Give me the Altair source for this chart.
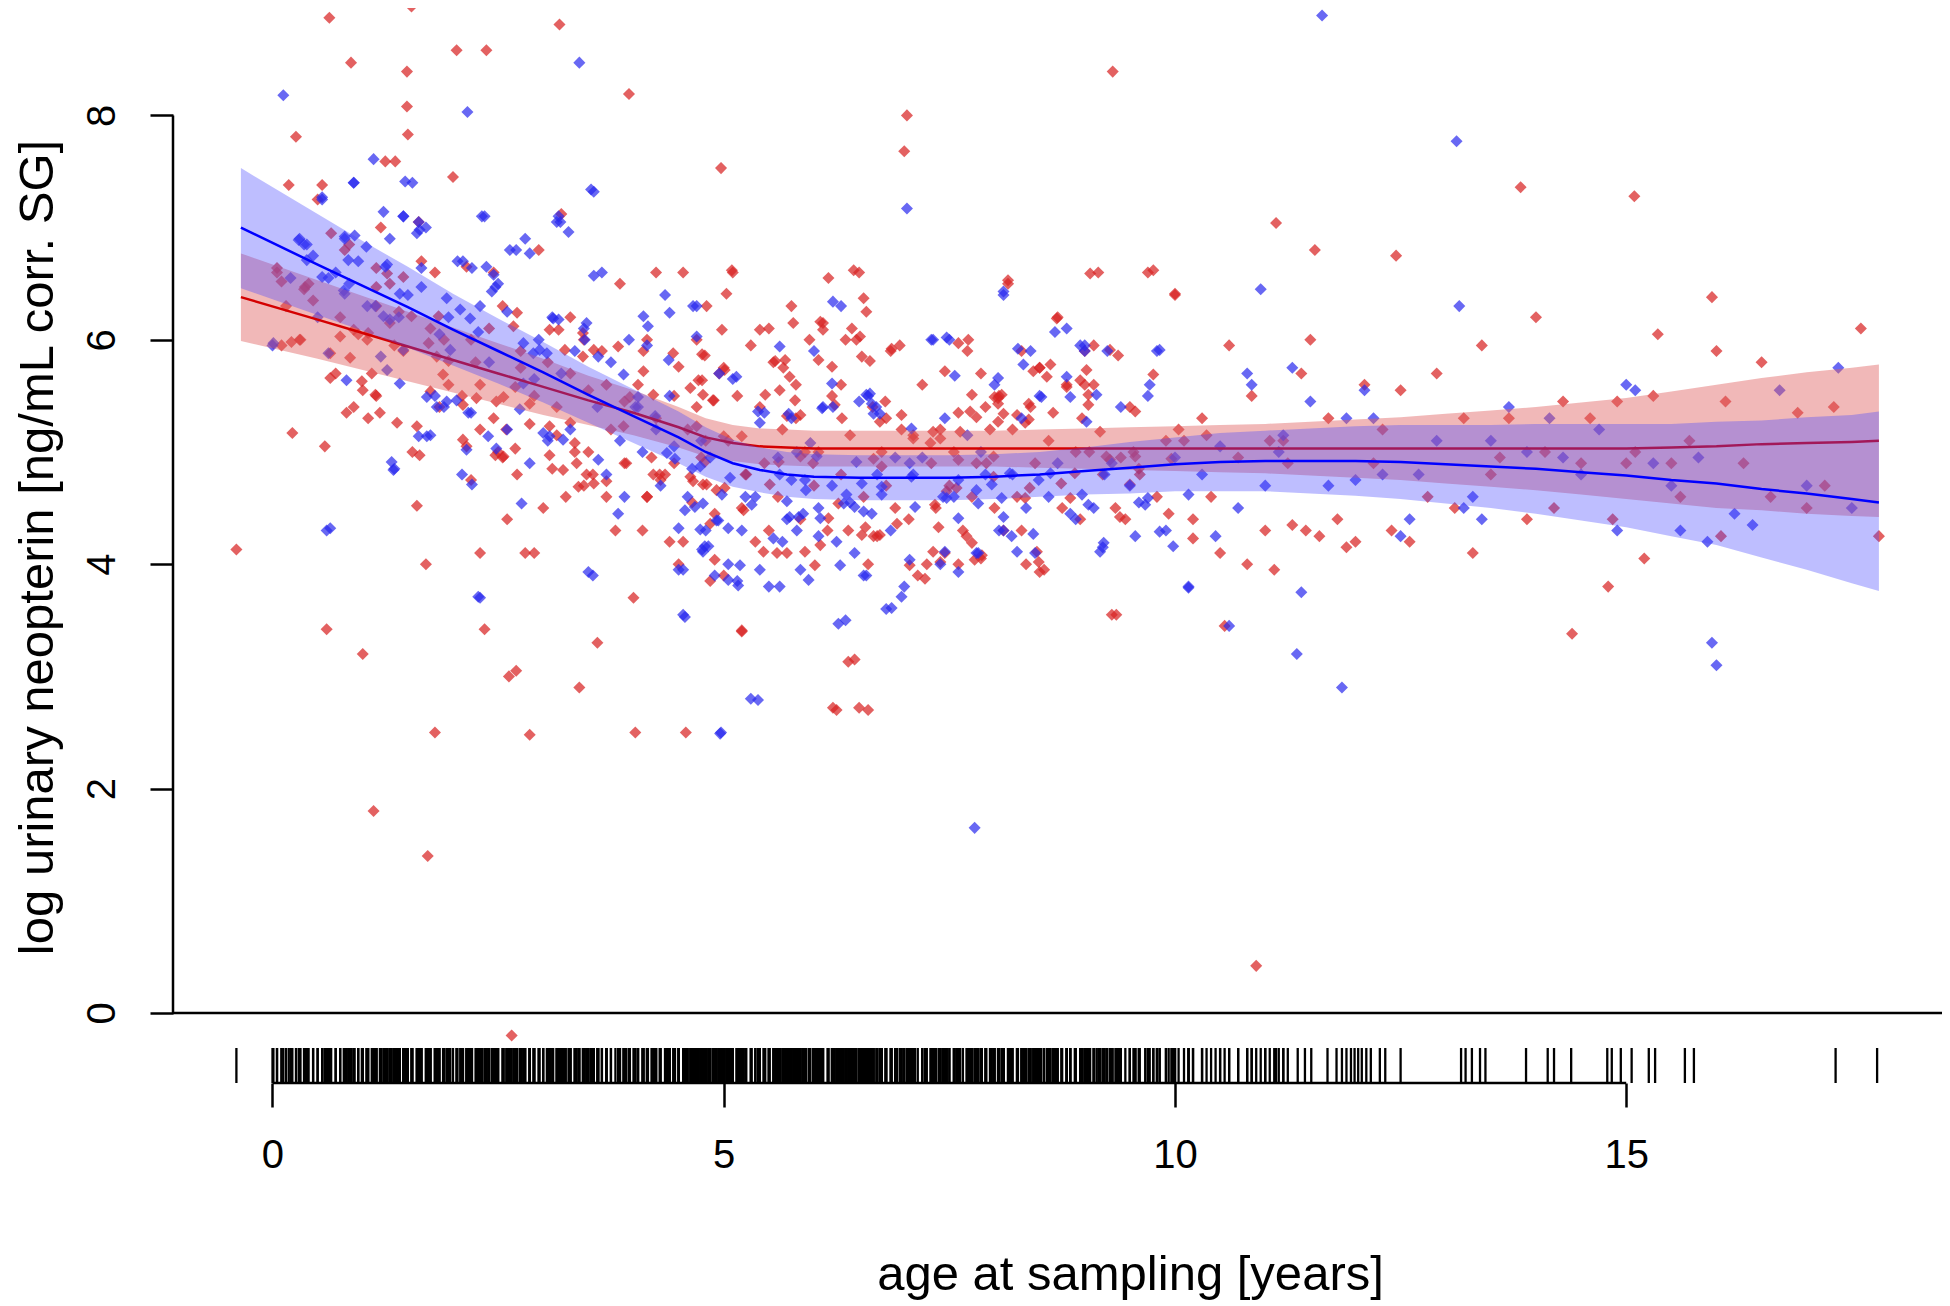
import altair as alt
import pandas as pd

# ---------------- data ----------------
RED_POINTS = [
    (-0.40, 4.13), (0.05, 6.60), (0.10, 5.95), (0.18, 7.38), (0.22, 5.17), (0.26, 7.81), (0.30, 6.00),
    (0.35, 6.45), (0.40, 6.50), (0.50, 7.25), (0.55, 7.38), (0.58, 5.05), (0.60, 3.42), (0.63, 8.87),
    (0.65, 6.95), (0.70, 5.70), (0.75, 6.20), (0.80, 6.80), (0.87, 8.47), (0.90, 5.40), (0.95, 6.05),
    (1.00, 3.20), (1.00, 5.55), (0.85, 6.85), (0.45, 6.35), (0.15, 6.30),
    (1.05, 6.00), (1.10, 5.70), (1.12, 1.80), (1.15, 5.50), (1.20, 7.00), (1.25, 7.59), (1.30, 6.50),
    (1.36, 7.59), (1.40, 6.25), (1.45, 5.90), (1.49, 8.39), (1.49, 8.08), (1.50, 7.83), (1.54, 8.97),
    (1.55, 5.00), (1.60, 4.52), (1.62, 7.05), (1.70, 4.00), (1.72, 1.40), (1.75, 6.10), (1.80, 2.50),
    (1.85, 5.40), (1.90, 6.00), (1.95, 5.60), (2.00, 7.45), (2.04, 8.58), (1.65, 6.70), (1.35, 5.95),
    (1.15, 6.30), (1.80, 6.60),
    (2.10, 5.50), (2.15, 6.65), (2.20, 4.75), (2.25, 5.80), (2.30, 4.10), (2.35, 3.42), (2.37, 8.58),
    (2.40, 6.10), (2.45, 5.30), (2.50, 5.00), (2.55, 6.30), (2.60, 4.40), (2.62, 3.00), (2.70, 3.05),
    (2.75, 5.90), (2.80, 4.10), (2.85, 2.48), (2.90, 5.50), (2.95, 6.80), (3.00, 4.50), (2.65, -0.20),
    (2.30, 5.60), (2.55, 4.95), (2.85, 5.25), (2.20, 6.00), (2.75, 5.75), (2.90, 4.10), (2.45, 6.60),
    (3.05, 5.80), (3.10, 4.85), (3.15, 5.40), (3.18, 8.81), (3.20, 7.12), (3.25, 4.60), (3.30, 5.70),
    (3.35, 5.00), (3.40, 2.90), (3.45, 6.00), (3.50, 5.55), (3.55, 4.80), (3.60, 3.30), (3.65, 5.90),
    (3.70, 4.60), (3.75, 5.20), (3.80, 4.30), (3.85, 6.50), (3.90, 4.90), (3.95, 8.19), (4.00, 3.70),
    (4.02, 2.50), (3.30, 6.20), (3.50, 5.00), (3.70, 5.60), (3.90, 5.45), (3.15, 5.15), (3.45, 4.70),
    (4.05, 5.60), (4.10, 4.30), (4.15, 6.00), (4.20, 4.95), (4.25, 5.30), (4.30, 4.75), (4.35, 4.80),
    (4.40, 4.20), (4.45, 5.50), (4.50, 4.00), (4.55, 6.60), (4.58, 2.50), (4.60, 5.20), (4.65, 4.55),
    (4.70, 6.00), (4.75, 4.95), (4.80, 5.10), (4.85, 3.85), (4.90, 4.45), (4.95, 5.70), (4.97, 7.53),
    (5.00, 3.90), (4.25, 6.60), (4.45, 4.90), (4.70, 5.40), (4.15, 4.60), (4.55, 4.20),
    (5.05, 5.10), (5.10, 6.60), (5.15, 5.50), (5.20, 3.40), (5.25, 4.80), (5.30, 5.95), (5.35, 4.20),
    (5.40, 5.40), (5.45, 4.90), (5.50, 6.10), (5.55, 5.80), (5.60, 4.60), (5.65, 5.20), (5.70, 4.10),
    (5.75, 6.30), (5.80, 5.60), (5.85, 4.40), (5.90, 5.00), (5.95, 6.00), (6.00, 4.70), (5.20, 4.50),
    (5.50, 4.30), (5.80, 5.30),
    (6.05, 5.00), (6.10, 6.15), (6.15, 4.30), (6.20, 5.50), (6.25, 2.70), (6.30, 4.80), (6.35, 6.00),
    (6.40, 5.15), (6.45, 3.15), (6.50, 6.60), (6.55, 4.60), (6.60, 2.70), (6.65, 5.40), (6.70, 4.25),
    (6.75, 5.00), (6.80, 5.30), (6.85, 5.90), (6.90, 4.50), (6.95, 5.95), (7.00, 7.68), (7.03, 8.00),
    (6.30, 5.60), (6.60, 4.00), (6.80, 4.70),
    (7.05, 4.40), (7.10, 5.15), (7.15, 3.90), (7.20, 5.60), (7.30, 4.90), (7.35, 4.50), (7.40, 5.20),
    (7.45, 4.10), (7.50, 4.70), (7.55, 5.00), (7.60, 5.35), (7.65, 4.30), (7.70, 5.90), (7.75, 4.60),
    (7.80, 4.90), (7.85, 4.05), (7.90, 5.40), (7.95, 5.20), (8.00, 4.50), (7.25, 4.00), (7.60, 4.00),
    (7.85, 5.70),
    (8.05, 5.50), (8.10, 4.30), (8.15, 6.50), (8.20, 5.20), (8.25, 4.60), (8.30, 5.90), (8.35, 4.00),
    (8.40, 5.40), (8.45, 4.90), (8.50, 5.75), (8.55, 3.95), (8.60, 5.10), (8.70, 6.20), (8.75, 4.50),
    (8.80, 5.60), (8.90, 5.00), (8.95, 4.40), (9.00, 5.90), (8.30, 4.30), (8.65, 5.35),
    (9.05, 5.00), (9.10, 5.60), (9.20, 4.80), (9.30, 3.55), (9.31, 8.39), (9.40, 4.95), (9.50, 5.40),
    (9.60, 4.85), (9.70, 6.60), (9.80, 4.60), (9.90, 5.10), (10.00, 6.40), (9.15, 6.60), (9.45, 4.40),
    (10.10, 5.10), (10.20, 4.40), (10.30, 5.30), (10.40, 4.60), (10.50, 4.10), (10.55, 3.45),
    (10.60, 5.95), (10.70, 4.95), (10.80, 4.00), (10.85, 5.50), (10.90, 0.42), (11.00, 4.30),
    (11.05, 5.10), (11.12, 7.04), (10.35, 5.15),
    (11.10, 3.95), (11.20, 5.10), (11.30, 4.35), (11.40, 5.70), (11.45, 4.30), (11.50, 6.00),
    (11.55, 6.80), (11.60, 4.25), (11.70, 5.30), (11.80, 4.40), (11.90, 4.15), (12.00, 4.20),
    (11.25, 4.90),
    (12.10, 5.60), (12.20, 4.90), (12.30, 5.20), (12.40, 4.30), (12.45, 6.75), (12.50, 5.55),
    (12.60, 4.20), (12.90, 5.70), (12.80, 4.60),
    (13.10, 4.50), (13.20, 5.30), (13.30, 4.10), (13.40, 5.95), (13.50, 4.80), (13.70, 5.30),
    (13.83, 7.36), (13.90, 4.40), (14.00, 6.20), (13.60, 4.95),
    (14.10, 5.00), (14.20, 4.50), (14.30, 5.45), (14.40, 3.38), (14.50, 4.90), (14.60, 5.30),
    (14.80, 3.80), (14.85, 4.40), (14.90, 5.45), (15.00, 4.90),
    (15.09, 7.28), (15.10, 5.00), (15.20, 4.05), (15.30, 5.50), (15.35, 6.05), (15.50, 4.90),
    (15.60, 4.60), (15.70, 5.10), (15.95, 6.38), (16.00, 5.90), (16.05, 4.25),
    (16.10, 5.45), (16.30, 4.90), (16.50, 5.80), (16.60, 4.60), (16.90, 5.35), (17.20, 4.70),
    (17.30, 5.40), (17.60, 6.10), (17.80, 4.25), (17.00, 4.50),
]

RED_CORE = [
    (0.05, 6.64), (0.10, 6.52), (0.36, 6.47), (0.21, 5.98), (0.31, 6.00), (0.64, 5.88), (0.86, 5.84),
    (0.75, 6.03), (0.90, 6.09), (1.06, 6.06), (1.15, 6.47), (1.15, 6.64), (1.45, 6.56), (1.27, 6.59),
    (1.30, 6.15), (1.54, 6.21), (1.73, 5.97), (1.82, 5.85), (1.95, 5.81), (1.84, 6.21), (1.89, 5.69),
    (1.75, 5.54), (2.11, 5.42), (2.26, 5.48), (2.48, 5.45), (2.56, 5.49), (2.69, 5.58), (2.67, 6.12),
    (2.71, 6.24), (3.07, 6.09), (3.17, 6.09), (3.24, 5.91), (3.44, 6.06), (3.44, 5.85), (3.56, 5.91),
    (3.83, 5.94), (4.11, 5.90), (4.44, 5.88), (4.50, 5.76), (4.76, 5.87), (4.63, 5.57), (4.72, 5.64),
    (4.88, 5.46), (4.22, 5.51), (3.96, 5.49), (4.11, 5.72), (3.89, 5.23), (4.70, 5.23), (4.79, 4.91),
    (4.63, 4.78), (4.77, 4.71), (4.92, 4.66), (4.66, 4.74), (4.29, 4.80), (4.22, 4.80), (4.15, 4.60),
    (3.70, 4.74), (3.56, 4.72), (3.39, 4.69), (3.48, 4.80), (3.37, 4.90), (3.22, 4.84), (3.07, 4.97),
    (3.35, 5.08), (3.30, 5.26), (3.07, 5.23), (2.85, 5.43), (2.59, 5.20), (2.30, 5.20), (2.11, 5.11),
    (2.15, 5.05), (1.60, 5.23), (1.63, 4.97), (1.38, 5.26), (1.19, 5.35), (1.06, 5.30), (0.82, 5.35),
    (1.14, 5.51), (0.99, 5.63), (0.64, 5.66), (2.47, 4.97), (2.56, 4.96), (2.69, 5.03), (2.71, 4.80),
    (3.92, 4.90), (5.00, 5.75),
    (5.09, 6.62), (5.03, 6.41), (4.81, 6.30), (4.98, 6.09), (4.79, 5.86), (5.01, 5.73), (4.76, 5.64),
    (4.77, 5.51), (4.89, 5.46), (5.40, 6.09), (5.77, 6.15), (6.07, 6.16), (6.10, 6.09), (6.16, 6.55),
    (6.44, 6.62), (6.55, 6.37), (6.58, 6.25), (6.42, 6.10), (6.51, 6.03), (6.47, 6.00), (6.53, 5.85),
    (6.62, 5.81), (5.57, 5.81), (5.68, 5.82), (5.66, 5.75), (5.73, 5.67), (6.05, 5.82), (6.20, 5.76),
    (5.46, 5.51), (5.62, 5.55), (5.79, 5.46), (5.85, 5.33), (5.70, 5.32), (6.31, 5.30), (6.23, 5.42),
    (6.79, 5.45), (6.73, 5.27), (6.97, 5.33), (6.86, 5.92), (7.45, 5.72), (7.60, 5.97), (7.71, 6.00),
    (7.75, 5.51), (7.73, 5.36), (7.80, 5.31), (8.00, 5.49), (8.04, 5.48), (8.08, 5.51), (8.04, 5.43),
    (8.10, 5.34), (8.04, 5.27), (8.15, 6.53), (8.38, 5.43), (8.38, 5.29), (8.25, 5.33), (8.34, 5.26),
    (8.58, 5.67), (8.62, 5.78), (8.43, 5.72), (8.50, 5.75), (8.69, 6.19), (8.80, 5.58), (8.95, 5.64),
    (9.00, 5.60), (9.04, 5.51), (9.02, 5.73), (9.04, 5.42), (8.97, 5.30), (9.06, 6.59), (9.10, 5.95),
    (9.28, 5.91), (9.37, 5.86), (9.56, 5.36), (9.76, 6.62), (9.76, 5.69), (10.00, 6.41), (10.04, 5.20),
    (9.17, 5.18), (7.62, 5.18), (7.32, 5.18), (7.40, 5.12), (6.97, 5.20), (7.10, 5.12), (7.29, 5.08),
    (5.20, 5.14), (5.00, 5.14),
    (4.81, 4.71), (5.01, 4.68), (5.24, 4.80), (5.22, 4.48), (4.90, 4.04), (4.85, 4.36), (5.44, 4.11),
    (5.59, 4.10), (5.85, 4.96), (5.99, 4.90), (5.90, 4.11), (6.01, 3.99), (6.07, 4.17), (5.51, 4.71),
    (5.61, 4.91), (6.16, 4.41), (6.27, 4.54), (6.38, 4.30), (6.53, 4.26), (6.57, 4.33), (6.66, 4.25),
    (6.73, 4.26), (6.75, 4.87), (6.66, 4.94), (6.92, 4.36), (7.06, 3.99), (7.23, 3.87), (7.32, 4.11),
    (7.40, 4.02), (7.34, 4.53), (7.38, 4.33), (7.58, 4.68), (7.47, 4.65), (7.60, 4.93), (7.69, 4.25),
    (7.75, 4.19), (7.86, 4.08), (7.78, 4.04), (7.91, 4.90), (7.99, 4.96), (8.39, 4.68), (8.34, 4.59),
    (8.47, 4.11), (8.49, 4.02), (8.50, 3.93), (8.74, 4.72), (8.84, 4.59), (8.89, 4.81), (9.34, 4.50),
    (9.39, 4.42), (9.35, 3.55), (9.50, 4.71), (9.93, 4.45), (10.20, 4.23), (9.24, 4.96), (9.28, 4.93),
    (9.54, 5.00), (9.56, 4.96), (9.61, 4.80), (9.96, 4.94), (7.99, 4.78), (5.20, 3.41), (6.38, 3.13),
    (6.21, 2.72), (6.50, 2.72),
]

BLUE_POINTS = [
    (0.00, 5.95), (0.12, 8.18), (0.20, 6.55), (0.30, 6.90), (0.35, 6.85), (0.45, 6.75), (0.55, 7.27),
    (0.60, 4.30), (0.62, 6.55), (0.70, 6.60), (0.80, 6.90), (0.85, 6.50), (0.90, 7.40), (0.95, 6.70),
    (0.50, 6.20),
    (1.12, 7.61), (1.05, 6.30), (1.20, 5.85), (1.30, 6.90), (1.35, 4.85), (1.40, 6.20), (1.45, 7.10),
    (1.50, 6.40), (1.60, 6.95), (1.70, 7.00), (1.75, 5.15), (1.80, 5.50), (1.90, 5.40), (1.95, 6.20),
    (1.25, 6.65), (1.55, 7.40), (1.85, 6.05),
    (2.05, 6.70), (2.16, 8.03), (2.20, 5.35), (2.30, 3.70), (2.35, 7.10), (2.40, 5.80), (2.50, 6.50),
    (2.60, 6.25), (2.70, 6.80), (2.80, 6.90), (2.90, 5.65), (2.95, 6.00), (2.30, 6.30), (2.60, 5.20),
    (2.85, 4.90), (2.10, 4.80),
    (3.05, 5.10), (3.10, 6.20), (3.15, 7.05), (3.20, 5.70), (3.30, 5.20), (3.40, 8.47), (3.45, 6.10),
    (3.53, 7.34), (3.55, 3.90), (3.60, 5.40), (3.70, 4.80), (3.75, 5.80), (3.85, 5.10), (3.90, 4.60),
    (3.95, 6.00), (3.35, 5.90), (3.65, 6.60),
    (4.05, 5.40), (4.10, 5.00), (4.15, 5.95), (4.25, 5.20), (4.30, 4.70), (4.40, 5.50), (4.45, 5.05),
    (4.50, 3.95), (4.55, 3.55), (4.60, 4.60), (4.70, 6.30), (4.75, 5.10), (4.80, 4.30), (4.85, 4.95),
    (4.90, 3.90), (4.95, 5.70), (4.97, 2.50), (4.35, 6.40), (4.65, 4.85),
    (5.05, 4.00), (5.10, 5.65), (5.15, 3.85), (5.20, 4.30), (5.30, 2.80), (5.35, 4.60), (5.45, 5.35),
    (5.50, 3.80), (5.60, 4.95), (5.70, 4.40), (5.75, 5.30), (5.85, 3.95), (5.90, 4.75), (6.00, 5.90),
    (5.65, 4.20),
    (6.05, 4.50), (6.10, 5.40), (6.20, 4.70), (6.30, 6.30), (6.35, 3.50), (6.40, 4.55), (6.50, 5.45),
    (6.55, 3.90), (6.60, 5.50), (6.70, 4.80), (6.80, 3.60), (6.85, 4.30), (6.90, 4.95), (7.00, 3.80),
    (7.03, 7.17), (6.45, 4.10),
    (7.10, 4.80), (7.20, 4.95), (7.30, 6.00), (7.40, 4.00), (7.50, 6.00), (7.55, 4.60), (7.60, 4.75),
    (7.70, 5.15), (7.78, 1.65), (7.80, 4.10), (7.85, 5.00), (7.90, 4.80), (8.00, 5.60), (7.45, 5.30),
    (8.05, 4.30), (8.10, 6.40), (8.20, 4.80), (8.30, 5.30), (8.40, 5.90), (8.45, 4.10), (8.50, 5.50),
    (8.60, 4.60), (8.70, 4.90), (8.80, 6.10), (8.90, 4.40), (9.00, 5.90), (8.35, 4.50),
    (9.10, 4.50), (9.20, 4.15), (9.30, 4.90), (9.40, 5.40), (9.50, 4.70), (9.60, 4.55), (9.70, 5.50),
    (9.80, 5.90), (9.90, 4.30), (10.00, 4.95), (9.25, 5.90),
    (10.15, 3.80), (10.30, 4.80), (10.45, 4.25), (10.60, 3.45), (10.70, 4.50), (10.80, 5.70),
    (10.85, 5.60), (10.95, 6.45), (11.00, 4.70), (10.50, 5.05),
    (11.15, 5.00), (11.30, 5.75), (11.35, 3.20), (11.40, 3.75), (11.50, 5.45), (11.63, 8.89),
    (11.70, 4.70), (11.85, 2.90), (11.90, 5.30), (12.00, 4.75), (11.20, 5.15),
    (12.10, 5.55), (12.20, 5.30), (12.30, 4.80), (12.50, 4.25), (12.60, 4.40), (12.90, 5.10),
    (12.70, 4.80),
    (13.12, 7.77), (13.15, 6.30), (13.20, 4.50), (13.30, 4.60), (13.40, 4.40), (13.50, 5.10),
    (13.70, 5.40), (13.90, 5.00),
    (14.15, 5.30), (14.30, 4.95), (14.50, 4.80), (14.70, 5.20), (14.90, 4.30), (15.00, 5.60),
    (15.10, 5.55), (15.30, 4.90), (15.50, 4.70), (15.60, 4.30), (15.80, 4.95), (15.95, 3.30),
    (16.00, 3.10), (15.90, 4.20),
    (16.20, 4.45), (16.40, 4.35), (16.70, 5.55), (17.00, 4.70), (17.35, 5.75), (17.50, 4.50),
]

BLUE_CORE = [
    (0.90, 7.40), (1.47, 7.41), (0.55, 7.25), (0.29, 6.89), (0.38, 6.85), (0.80, 6.92), (0.91, 6.93),
    (1.04, 6.83), (0.84, 6.71), (0.38, 6.71), (0.55, 6.56), (0.79, 6.44), (0.80, 6.41), (1.23, 7.14),
    (1.45, 7.10), (1.62, 7.05), (1.63, 6.98), (2.32, 7.10), (2.11, 6.70), (2.21, 6.64), (2.37, 6.65),
    (2.45, 6.58), (2.47, 6.47), (2.43, 6.43), (2.63, 6.80), (2.85, 6.77), (3.17, 7.10), (3.19, 7.05),
    (3.28, 6.96), (3.56, 7.32), (3.56, 6.57), (1.65, 6.64), (1.27, 6.67), (1.41, 6.41), (1.14, 6.30),
    (1.23, 6.21), (1.30, 6.18), (1.65, 6.47), (1.93, 6.37), (2.08, 6.27), (2.19, 6.19), (2.28, 6.07),
    (1.97, 5.91), (1.45, 5.91), (1.27, 5.73), (1.41, 5.61), (1.71, 5.49), (1.82, 5.40), (1.93, 5.45),
    (2.04, 5.46), (2.17, 5.35), (0.01, 5.97), (0.62, 5.88), (0.82, 5.64), (2.78, 5.97), (2.89, 5.88),
    (2.96, 5.91), (3.04, 5.88), (3.11, 6.19), (3.17, 6.18), (3.48, 6.15), (3.46, 6.00), (3.61, 5.85),
    (3.89, 5.69), (4.05, 5.49), (4.40, 6.24), (4.66, 6.30), (4.70, 6.03), (4.11, 6.21), (4.16, 6.12),
    (4.39, 5.82), (4.24, 5.32), (4.46, 4.94), (4.37, 4.99), (4.02, 5.40), (3.00, 5.17), (3.07, 5.14),
    (3.22, 5.11), (2.78, 5.61), (2.74, 5.38), (2.39, 5.14), (2.48, 5.03), (2.15, 5.02), (1.62, 5.14),
    (1.71, 5.14), (3.61, 4.93), (3.83, 4.45), (4.50, 4.32), (4.74, 4.31), (4.83, 4.16), (4.77, 4.11),
    (4.57, 4.48), (4.68, 4.51), (4.92, 4.39), (1.32, 4.91), (1.34, 4.84), (2.21, 4.71), (2.76, 4.54),
    (3.50, 3.93), (4.55, 3.95), (4.57, 3.53), (2.28, 3.71), (0.64, 4.32),
    (6.21, 6.34), (5.62, 5.94), (5.14, 5.67), (6.20, 5.61), (5.38, 5.36), (5.40, 5.26), (5.72, 5.34),
    (6.09, 5.39), (6.21, 5.40), (6.58, 5.51), (6.62, 5.52), (6.64, 5.43), (6.69, 5.40), (6.73, 5.34),
    (6.66, 5.34), (7.08, 5.21), (7.32, 6.00), (7.47, 6.02), (7.56, 5.68), (8.10, 6.43), (8.26, 5.92),
    (8.32, 5.78), (8.04, 5.66), (8.52, 5.49), (8.67, 6.07), (8.80, 5.67), (8.84, 5.49), (8.95, 5.95),
    (9.00, 5.95), (9.02, 5.27), (9.13, 5.51), (9.83, 5.91), (9.72, 5.60), (5.81, 5.00), (5.96, 5.08),
    (6.03, 4.96), (5.62, 4.80), (5.75, 4.75), (5.07, 4.77), (4.98, 4.62), (4.74, 4.87), (4.77, 4.54),
    (5.24, 4.60), (5.31, 4.53), (4.94, 4.39), (5.05, 4.32), (4.79, 4.16), (4.76, 4.13), (5.18, 3.99),
    (5.16, 3.81), (5.40, 3.95), (5.05, 3.86), (5.62, 3.80), (5.55, 4.23), (5.70, 4.56), (5.73, 4.42),
    (5.83, 4.42), (5.88, 4.45), (5.81, 4.30), (5.91, 4.66), (6.07, 4.41), (6.05, 4.25), (6.25, 4.20),
    (6.29, 3.99), (5.94, 3.86), (6.36, 4.62), (6.33, 4.54), (6.45, 4.51), (6.55, 4.47), (6.64, 4.45),
    (6.47, 4.91), (6.53, 4.72), (6.75, 4.69), (6.75, 4.62), (6.58, 3.90), (6.86, 3.61), (6.97, 3.71),
    (6.27, 3.47), (5.38, 2.79), (4.96, 2.49), (7.06, 4.90), (7.08, 4.78), (7.06, 4.04), (7.12, 4.51),
    (7.43, 4.60), (7.47, 4.59), (7.45, 4.11), (7.60, 4.41), (7.60, 3.93), (7.80, 4.66), (7.82, 4.54),
    (7.82, 4.10), (7.97, 4.71), (8.08, 4.59), (8.10, 4.42), (8.10, 4.30), (8.19, 4.25), (8.25, 4.11),
    (8.43, 4.27), (8.97, 4.62), (8.84, 4.45), (9.04, 4.53), (9.17, 4.11), (9.21, 4.19), (9.22, 4.80),
    (9.56, 4.25), (9.67, 4.53), (9.70, 4.59), (9.83, 4.29), (9.98, 4.16), (10.15, 4.62), (10.15, 3.79),
    (8.17, 4.81), (8.49, 4.75), (8.62, 4.81),
]

# ages in the rug beyond 11 years (sparse ticks read individually)
RUG_SPARSE = [11.36, 11.44, 11.51, 11.69, 11.79, 11.85, 11.90, 11.95, 11.99, 12.03, 12.07, 12.12,
              12.17, 12.27, 12.33, 12.50, 13.17, 13.22, 13.29, 13.38, 13.44, 13.89, 14.13, 14.20,
              14.39, 14.79, 14.84, 14.94, 15.06, 15.25, 15.32, 15.65, 15.75, 17.32, 17.78]

CURVE_AGE = [-0.35, 0.5, 1.0, 1.5, 2.0, 2.5, 3.0, 3.5, 4.0, 4.5, 4.8, 5.1, 5.4, 5.7, 6.0, 6.5, 7.0,
             7.5, 8.0, 8.5, 9.0, 9.5, 10.0, 10.5, 11.0, 11.5, 12.0, 12.5, 13.0, 13.5, 14.0, 14.5,
             15.0, 15.5, 16.0, 16.5, 17.0, 17.5, 17.8]

BLUE_FIT = [7.00, 6.67, 6.48, 6.29, 6.09, 5.90, 5.71, 5.51, 5.32, 5.13, 5.00, 4.90, 4.84, 4.80, 4.78,
            4.77, 4.77, 4.77, 4.78, 4.80, 4.83, 4.86, 4.89, 4.91, 4.92, 4.92, 4.92, 4.91, 4.89, 4.87,
            4.85, 4.82, 4.79, 4.75, 4.72, 4.67, 4.63, 4.58, 4.55]
BLUE_LO = [6.46, 6.22, 6.08, 5.93, 5.77, 5.61, 5.44, 5.26, 5.08, 4.90, 4.78, 4.69, 4.64, 4.60, 4.58,
           4.57, 4.57, 4.57, 4.58, 4.60, 4.62, 4.63, 4.65, 4.65, 4.65, 4.63, 4.61, 4.58, 4.54, 4.50,
           4.45, 4.39, 4.33, 4.25, 4.17, 4.06, 3.95, 3.83, 3.76]
BLUE_HI = [7.53, 7.12, 6.88, 6.65, 6.41, 6.19, 5.98, 5.76, 5.56, 5.36, 5.22, 5.11, 5.04, 5.00, 4.98,
           4.97, 4.97, 4.97, 4.98, 5.00, 5.04, 5.09, 5.13, 5.17, 5.19, 5.21, 5.23, 5.24, 5.24, 5.24,
           5.25, 5.25, 5.25, 5.25, 5.27, 5.28, 5.31, 5.33, 5.36]

RED_FIT = [6.38, 6.18, 6.06, 5.94, 5.82, 5.70, 5.58, 5.46, 5.35, 5.22, 5.13, 5.08, 5.05, 5.04, 5.03,
           5.03, 5.03, 5.03, 5.03, 5.03, 5.03, 5.03, 5.03, 5.03, 5.03, 5.03, 5.03, 5.03, 5.03, 5.03,
           5.03, 5.03, 5.03, 5.04, 5.05, 5.07, 5.08, 5.09, 5.10]
RED_LO = [5.99, 5.83, 5.73, 5.63, 5.53, 5.43, 5.33, 5.24, 5.15, 5.04, 4.96, 4.92, 4.89, 4.88, 4.87,
          4.87, 4.87, 4.87, 4.87, 4.86, 4.85, 4.84, 4.83, 4.82, 4.81, 4.79, 4.77, 4.75, 4.72, 4.69,
          4.66, 4.62, 4.58, 4.54, 4.50, 4.48, 4.45, 4.43, 4.42]
RED_HI = [6.77, 6.53, 6.39, 6.25, 6.11, 5.97, 5.83, 5.68, 5.55, 5.40, 5.30, 5.24, 5.21, 5.20, 5.19,
          5.19, 5.19, 5.19, 5.19, 5.20, 5.21, 5.22, 5.23, 5.24, 5.25, 5.27, 5.29, 5.31, 5.34, 5.37,
          5.40, 5.44, 5.48, 5.54, 5.60, 5.66, 5.71, 5.75, 5.78]

X_TICKS = [0, 5, 10, 15]
Y_TICKS = [0, 2, 4, 6, 8]
X_TITLE = "age at sampling [years]"
Y_TITLE = "log urinary neopterin [ng/mL corr. SG]"

# ---------------- tables ----------------
red_df = pd.DataFrame(RED_POINTS + RED_CORE, columns=["age", "neo"])
blue_df = pd.DataFrame(BLUE_POINTS + BLUE_CORE, columns=["age", "neo"])
all_ages = list(red_df["age"]) + list(blue_df["age"])
rug_df = pd.DataFrame({"age": [a for a in all_ages if a < 11.3] + RUG_SPARSE})
curve_df = pd.DataFrame({"age": CURVE_AGE,
                         "blue_fit": BLUE_FIT, "blue_lo": BLUE_LO, "blue_hi": BLUE_HI,
                         "red_fit": RED_FIT, "red_lo": RED_LO, "red_hi": RED_HI})

# ---------------- layout ----------------
W, H = 1769, 1075
FONT = "Liberation Sans"
XS = alt.Scale(domain=[-1.1025, 18.499], nice=False, zero=False)
YS = alt.Scale(domain=[-0.624, 8.957], nice=False, zero=False)

X_AXIS = alt.Axis(values=X_TICKS, format="d", title=X_TITLE, domain=False, grid=False,
                  tickSize=24, tickWidth=2.5, tickColor="black",
                  labelFont=FONT, labelFontSize=40, labelColor="black", labelPadding=48,
                  labelBaseline="middle", labelAlign="center", labelFlush=False, labelOverlap=False,
                  titleFont=FONT, titleFontSize=49, titleFontWeight="normal", titleColor="black",
                  titleX=957, titleY=206, titleAlign="center", titleBaseline="alphabetic")
Y_AXIS = alt.Axis(values=Y_TICKS, format="d", title=Y_TITLE, domain=False, grid=False,
                  tickSize=23, tickWidth=2.5, tickColor="black",
                  labelFont=FONT, labelFontSize=40, labelColor="black", labelPadding=48,
                  labelAngle=270, labelBaseline="middle", labelAlign="center",
                  labelFlush=False, labelOverlap=False,
                  titleFont=FONT, titleFontSize=49, titleFontWeight="normal", titleColor="black",
                  titleAngle=270, titleX=-121, titleY=539, titleAlign="center",
                  titleBaseline="alphabetic")


def X(field):
    return alt.X(field, type="quantitative", scale=XS, axis=X_AXIS)


def Y(field):
    return alt.Y(field, type="quantitative", scale=YS, axis=Y_AXIS)


rug = alt.Chart(rug_df).mark_rule(color="black", strokeWidth=2.3).encode(
    x=X("age"), y=alt.value(H - 35), y2=alt.value(H))

zero_line = alt.Chart(pd.DataFrame({"v": [0]})).mark_rule(color="black", strokeWidth=2.5).encode(
    y=Y("v"), x=alt.value(0), x2=alt.value(W))

y_domain = alt.Chart(pd.DataFrame({"lo": [Y_TICKS[0]], "hi": [Y_TICKS[-1]]})).mark_rule(
    color="black", strokeWidth=2.5).encode(y=Y("lo"), y2="hi", x=alt.value(0))

x_domain = alt.Chart(pd.DataFrame({"lo": [X_TICKS[0]], "hi": [X_TICKS[-1]]})).mark_rule(
    color="black", strokeWidth=2.5).encode(x=X("lo"), x2="hi", y=alt.value(H))

red_pts = alt.Chart(red_df).mark_point(shape="diamond", filled=True, size=145, opacity=0.72,
                                       color="#D82424", strokeWidth=0).encode(x=X("age"), y=Y("neo"))
blue_pts = alt.Chart(blue_df).mark_point(shape="diamond", filled=True, size=145, opacity=0.7,
                                         color="#2828EE", strokeWidth=0).encode(x=X("age"), y=Y("neo"))

red_band = alt.Chart(curve_df).mark_area(color="#E06262", opacity=0.45).encode(
    x=X("age"), y=Y("red_lo"), y2="red_hi")
red_line = alt.Chart(curve_df).mark_line(color="#D40000", strokeWidth=2.5).encode(
    x=X("age"), y=Y("red_fit"))
blue_band = alt.Chart(curve_df).mark_area(color="#4545FF", opacity=0.35).encode(
    x=X("age"), y=Y("blue_lo"), y2="blue_hi")
blue_line = alt.Chart(curve_df).mark_line(color="#0000FF", strokeWidth=2.5).encode(
    x=X("age"), y=Y("blue_fit"))

chart = alt.layer(
    rug, zero_line, y_domain, x_domain, red_pts, blue_pts, red_band, red_line, blue_band, blue_line
).properties(
    width=W, height=H,
    autosize=alt.AutoSizeParams(type="none"),
    padding={"left": 165, "top": 0, "right": 0, "bottom": 218},
    background="white",
).configure_view(stroke=None)

chart.save("out.html", embed_options={"renderer": "svg", "actions": False})
